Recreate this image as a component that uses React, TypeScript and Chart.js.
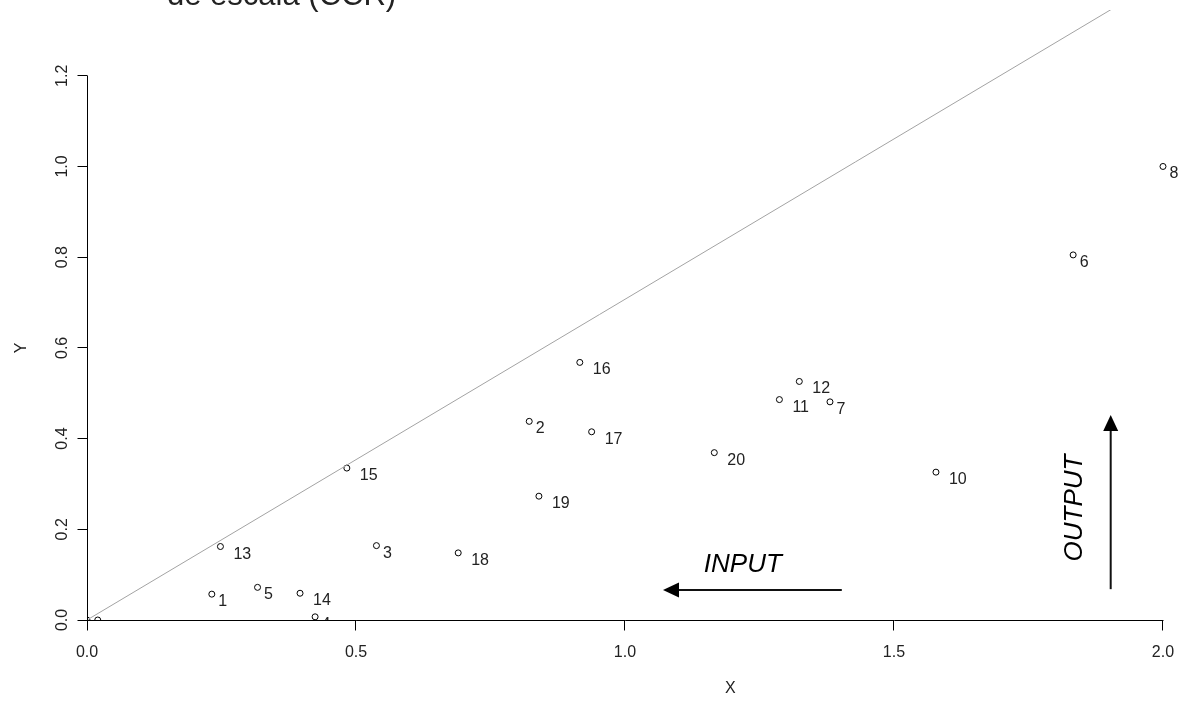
import React, { useEffect, useRef } from "react";
import { Chart, registerables } from "chart.js";

Chart.register(...registerables);

// ---- Data ----
const POINT_LABELS = ["1", "2", "3", "4", "5", "6", "7", "8", "9", "10", "11", "12", "13", "14", "15", "16", "17", "18", "19", "20", ""];
const X_VALUES = [0.232, 0.822, 0.538, 0.424, 0.317, 1.833, 1.381, 2.0, 0.02, 1.578, 1.287, 1.324, 0.248, 0.396, 0.483, 0.916, 0.938, 0.690, 0.840, 1.166, 0.0];
const Y_VALUES = [0.057, 0.438, 0.164, 0.007, 0.072, 0.805, 0.481, 1.0, 0.0, 0.326, 0.486, 0.526, 0.162, 0.059, 0.335, 0.568, 0.415, 0.148, 0.273, 0.369, 0.0];

const REF_LINE_X = [0, 2.1];
const REF_LINE_Y = [0, 1.485];

const X_TICKS = [0, 0.5, 1.0, 1.5, 2.0];
const X_TICK_LABELS = ["0.0", "0.5", "1.0", "1.5", "2.0"];
const Y_TICKS = [0, 0.2, 0.4, 0.6, 0.8, 1.0, 1.2];
const Y_TICK_LABELS = ["0.0", "0.2", "0.4", "0.6", "0.8", "1.0", "1.2"];

const X_TITLE = "X";
const Y_TITLE = "Y";
const X_TITLE_AT = 1.196;
const TITLE_TEXT = "de escala (CCR)";

const INPUT_TEXT = "INPUT";
const OUTPUT_TEXT = "OUTPUT";
const INPUT_ARROW_FROM = [1.403, 0.066];
const INPUT_ARROW_TO = [1.0706, 0.066];
const OUTPUT_ARROW_FROM = [1.9028, 0.068];
const OUTPUT_ARROW_TO = [1.9028, 0.452];
const INPUT_TEXT_POS = [1.219, 0.106];
const OUTPUT_TEXT_POS = [1.8494, 0.247];

const X_MIN = 0;
const X_MAX = 2.0372;
const Y_MIN = 0;
const Y_MAX = 1.345;

const FONT = "'Liberation Sans', Arial, Helvetica, sans-serif";
const TEXT_COLOR = "#222";

const overlayPlugin = {
  id: "overlay",
  afterDatasetsDraw(chart: any) {
    const { ctx, chartArea } = chart;
    const xs = chart.scales.x;
    const ys = chart.scales.y;
    const px = (v: number) => xs.getPixelForValue(v);
    const py = (v: number) => ys.getPixelForValue(v);
    const crisp = (v: number) => Math.floor(v) + 0.5;

    ctx.save();

    // point labels (clipped to plot region)
    ctx.save();
    ctx.beginPath();
    ctx.rect(chartArea.left, chartArea.top, chartArea.right - chartArea.left, chartArea.bottom - chartArea.top);
    ctx.clip();
    ctx.font = `16px ${FONT}`;
    ctx.fillStyle = TEXT_COLOR;
    ctx.textAlign = "left";
    ctx.textBaseline = "alphabetic";
    POINT_LABELS.forEach((lab, i) => {
      if (!lab) return;
      const dx = lab.length > 1 ? 13 : 6.5;
      ctx.fillText(lab, px(X_VALUES[i]) + dx, py(Y_VALUES[i]) + 12);
    });
    ctx.restore();

    // axes
    const x0 = crisp(px(0));
    const y0 = crisp(py(0));
    ctx.strokeStyle = "#000";
    ctx.lineWidth = 1;
    ctx.beginPath();
    ctx.moveTo(px(X_TICKS[0]), y0);
    ctx.lineTo(px(X_TICKS[X_TICKS.length - 1]) + 0.5, y0);
    ctx.moveTo(x0, py(Y_TICKS[0]));
    ctx.lineTo(x0, py(Y_TICKS[Y_TICKS.length - 1]));
    X_TICKS.forEach((t) => {
      const xx = crisp(px(t));
      ctx.moveTo(xx, y0);
      ctx.lineTo(xx, y0 + 10);
    });
    Y_TICKS.forEach((t) => {
      const yy = crisp(py(t));
      ctx.moveTo(x0, yy);
      ctx.lineTo(x0 - 10, yy);
    });
    ctx.stroke();

    // tick labels
    ctx.font = `16px ${FONT}`;
    ctx.fillStyle = TEXT_COLOR;
    ctx.textAlign = "center";
    ctx.textBaseline = "alphabetic";
    X_TICKS.forEach((t, i) => {
      ctx.fillText(X_TICK_LABELS[i], px(t), y0 + 36);
    });
    Y_TICKS.forEach((t, i) => {
      ctx.save();
      ctx.translate(x0 - 21, py(t));
      ctx.rotate(-Math.PI / 2);
      ctx.fillText(Y_TICK_LABELS[i], 0, 0);
      ctx.restore();
    });

    // axis titles
    ctx.fillText(X_TITLE, px(X_TITLE_AT), y0 + 72);
    ctx.save();
    ctx.translate(x0 - 62, (py(Y_TICKS[0]) + py(Y_TICKS[Y_TICKS.length - 1])) / 2);
    ctx.rotate(-Math.PI / 2);
    ctx.fillText(Y_TITLE, 0, 0);
    ctx.restore();

    // arrows
    const drawArrow = (from: number[], to: number[]) => {
      const fx = px(from[0]);
      const fy = py(from[1]);
      const tx = px(to[0]);
      const ty = py(to[1]);
      const ang = Math.atan2(ty - fy, tx - fx);
      const headLen = 16;
      const headHalf = 7.5;
      const bx = tx - headLen * Math.cos(ang);
      const by = ty - headLen * Math.sin(ang);
      ctx.strokeStyle = "#111";
      ctx.fillStyle = "#000";
      ctx.lineWidth = 2;
      ctx.beginPath();
      ctx.moveTo(fx, fy);
      ctx.lineTo(bx, by);
      ctx.stroke();
      ctx.beginPath();
      ctx.moveTo(tx, ty);
      ctx.lineTo(bx + headHalf * Math.sin(ang), by - headHalf * Math.cos(ang));
      ctx.lineTo(bx - headHalf * Math.sin(ang), by + headHalf * Math.cos(ang));
      ctx.closePath();
      ctx.fill();
    };
    drawArrow(INPUT_ARROW_FROM, INPUT_ARROW_TO);
    drawArrow(OUTPUT_ARROW_FROM, OUTPUT_ARROW_TO);

    // annotation texts
    ctx.font = `italic 26px ${FONT}`;
    ctx.fillStyle = "#000";
    ctx.textAlign = "center";
    ctx.textBaseline = "alphabetic";
    ctx.fillText(INPUT_TEXT, px(INPUT_TEXT_POS[0]), py(INPUT_TEXT_POS[1]));
    ctx.save();
    ctx.translate(px(OUTPUT_TEXT_POS[0]), py(OUTPUT_TEXT_POS[1]));
    ctx.rotate(-Math.PI / 2);
    ctx.fillText(OUTPUT_TEXT, 0, 0);
    ctx.restore();

    // clipped title at the very top
    ctx.font = `31px ${FONT}`;
    ctx.fillStyle = "#222";
    ctx.textAlign = "left";
    ctx.fillText(TITLE_TEXT, 167, 5);

    ctx.restore();
  },
};

export default function App() {
  const canvasRef = useRef<HTMLCanvasElement | null>(null);

  useEffect(() => {
    const canvas = canvasRef.current;
    if (!canvas) return;
    const points = X_VALUES.map((x, i) => ({ x, y: Y_VALUES[i] }));
    const refLine = REF_LINE_X.map((x, i) => ({ x, y: REF_LINE_Y[i] }));
    const chart = new Chart(canvas, {
      type: "scatter",
      data: {
        datasets: [
          {
            label: "ref",
            data: refLine,
            showLine: true,
            borderColor: "#a3a3a3",
            borderWidth: 1,
            pointRadius: 0,
            fill: false,
          } as any,
          {
            label: "DMU",
            data: points,
            pointRadius: 3,
            pointStyle: "circle",
            borderColor: "#000",
            backgroundColor: "rgba(255,255,255,0)",
            borderWidth: 1,
          },
        ],
      },
      options: {
        responsive: false,
        animation: false,
        devicePixelRatio: 1,
        layout: { autoPadding: false, padding: { left: 87, right: 0, top: 10, bottom: 84 } },
        plugins: {
          legend: { display: false },
          tooltip: { enabled: false },
        },
        scales: {
          x: { type: "linear", min: X_MIN, max: X_MAX, display: false },
          y: { type: "linear", min: Y_MIN, max: Y_MAX, display: false },
        },
        events: [],
      },
      plugins: [overlayPlugin],
    });
    return () => chart.destroy();
  }, []);

  return (
    <div style={{ position: "fixed", left: 0, top: 0, width: 1183, height: 704, background: "#fff" }}>
      <canvas ref={canvasRef} width={1183} height={704} style={{ display: "block" }} />
    </div>
  );
}
